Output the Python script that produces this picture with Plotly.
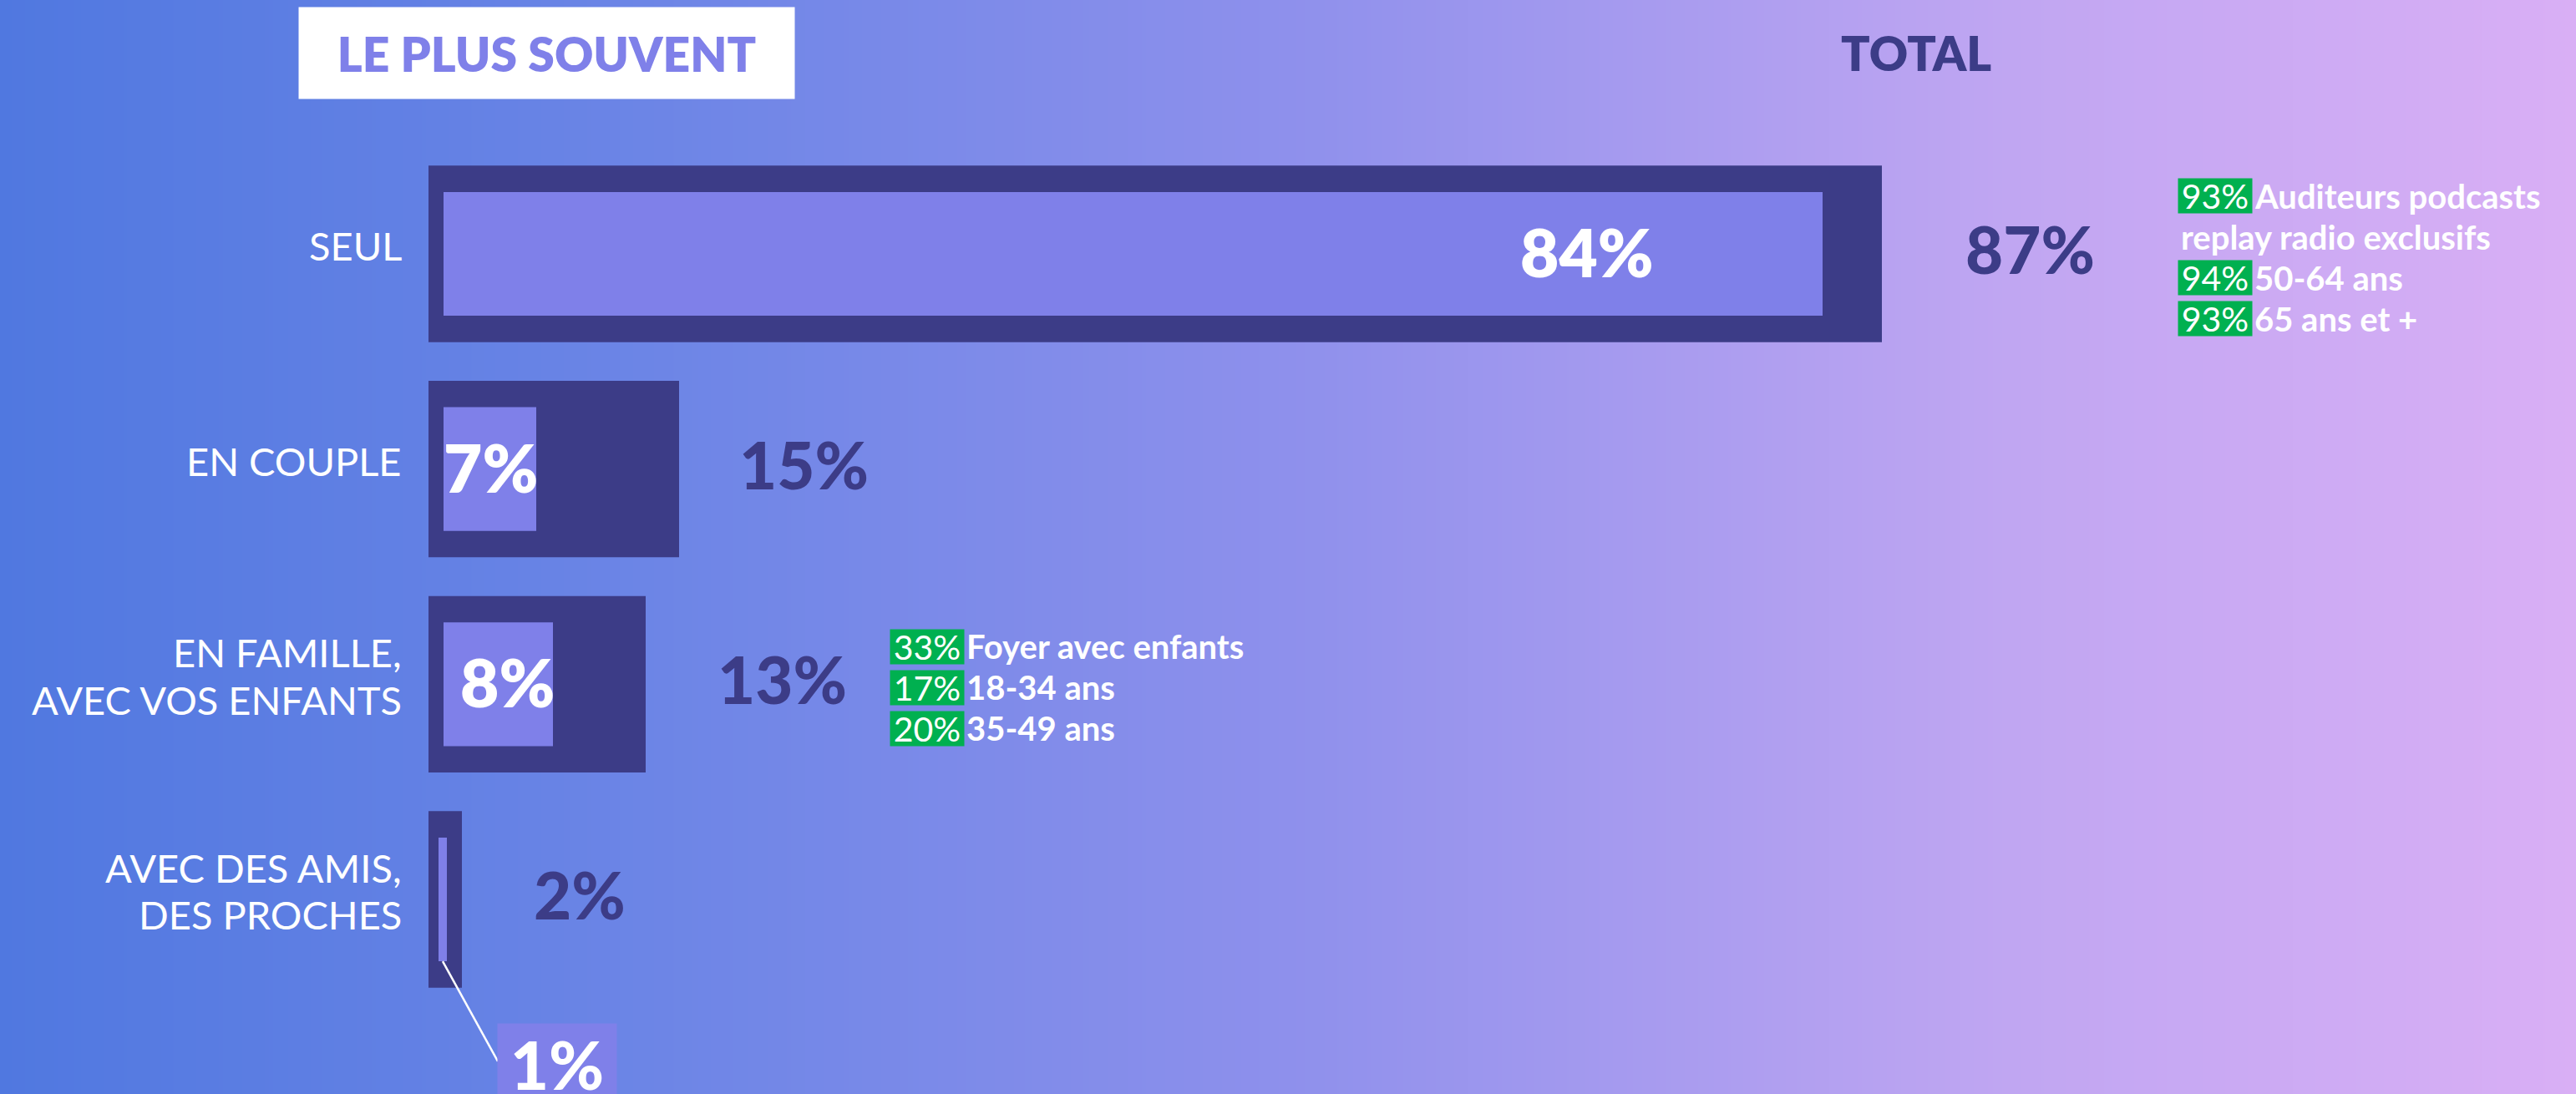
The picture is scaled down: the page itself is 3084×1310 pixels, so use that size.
import plotly.graph_objects as go

# ---------------- data ----------------
categories = ["SEUL", "EN COUPLE", "EN FAMILLE,<br>AVEC VOS ENFANTS", "AVEC DES AMIS,<br>DES PROCHES"]
total_pct = [87, 15, 13, 2]          # TOTAL
most_often_pct = [84, 7, 8, 1]       # LE PLUS SOUVENT
note_pcts = [["93%", "94%", "93%"], [], ["33%", "17%", "20%"], []]
note_labels = [["Auditeurs podcasts<br>replay radio exclusifs", "50-64 ans", "65 ans et +"],
               [], ["Foyer avec enfants", "18-34 ans", "35-49 ans"], []]
header_left = "LE PLUS SOUVENT"
header_right = "TOTAL"

# ---------------- style ----------------
W, H = 3084, 1310
FONT = "Lato"
NAVY = "#3c3c87"
LILAC = "#7f80e9"
GREEN = "#00b050"
WHITE = "#ffffff"
PX_PER_UNIT = 20.0
X0_PX = 513
Y_PX_PER_ROW = 257.67
Y0_PX = 304
X_RANGE = [-X0_PX / PX_PER_UNIT, (W - X0_PX) / PX_PER_UNIT]
Y_RANGE = [(len(categories) - 1) + (H - (Y0_PX + 3 * Y_PX_PER_ROW)) / Y_PX_PER_ROW, -Y0_PX / Y_PX_PER_ROW]
OUTER_W = 0.82
INNER_W = 0.575
INSET_L, INSET_R = 0.9, 0.55
TOTAL_GAP = [4.9, 3.5, 4.2, 4.2]
NOTE_GAP = [17.7, None, 14.6, None]
NOTE_PITCH = 49
BOX_W, BOX_H = 88, 41
LABEL_PITCH = 56.5

ypos = list(range(len(categories)))


def inner_span(v):
    if v > 2:
        return INSET_L, v - INSET_R
    return 0.6 * v, 1.1 * v


spans = [inner_span(v) for v in most_often_pct]

fig = go.Figure()

# background gradient
fig.add_trace(go.Heatmap(
    z=[[0, 1], [0, 1]], x=[0, 1], y=[0, 1], zsmooth="best", showscale=False,
    hoverinfo="skip", xaxis="x", yaxis="y",
    colorscale=[[0, "#5078e0"], [0.25, "#6c85e6"], [0.5, "#8e90ec"], [0.78, "#c0a6f2"], [1, "#d9aff5"]],
))

fig.add_trace(go.Bar(
    y=ypos, x=total_pct, base=0, orientation="h", width=OUTER_W,
    marker=dict(color=NAVY, line=dict(width=0)), xaxis="x2", yaxis="y2", hoverinfo="skip",
))
fig.add_trace(go.Bar(
    y=ypos, x=[b - a for a, b in spans], base=[a for a, b in spans], orientation="h", width=INNER_W,
    marker=dict(color=LILAC, line=dict(width=0)), xaxis="x2", yaxis="y2", hoverinfo="skip",
))

ann = []
# headers
ann.append(dict(xref="paper", yref="paper", x=654.5 / W, y=1 - 63.5 / H, xanchor="center", yanchor="middle",
                text=header_left, showarrow=False, bgcolor=WHITE, width=593, height=109, borderpad=0,
                font=dict(family=FONT, size=57, color=LILAC, weight=800)))
ann.append(dict(xref="paper", yref="paper", x=2294 / W, y=1 - 63.5 / H, xanchor="center", yanchor="middle",
                text=header_right, showarrow=False,
                font=dict(family=FONT, size=57, color=NAVY, weight=800)))

shapes = []
for i, cat in enumerate(categories):
    y = ypos[i]
    # category label (one annotation per line for tighter line spacing)
    parts = cat.split("<br>")
    for k, part in enumerate(parts):
        off = (k - (len(parts) - 1) / 2) * LABEL_PITCH
        ann.append(dict(xref="x2", yref="y2", x=-1.5, y=y, xanchor="right", yanchor="middle", align="right",
                        text=part, showarrow=False, yshift=10 - off,
                        font=dict(family=FONT, size=47, color=WHITE)))
    # total value
    ann.append(dict(xref="x2", yref="y2", x=total_pct[i] + TOTAL_GAP[i], y=y, xanchor="left", yanchor="middle",
                    text=f"{total_pct[i]}%", showarrow=False, yshift=6,
                    font=dict(family=FONT, size=78, color=NAVY, weight=900)))
    a, b = spans[i]
    v = most_often_pct[i]
    if v > 2:
        gap = 10 if v >= 50 else -0.2
        ann.append(dict(xref="x2", yref="y2", x=b - gap, y=y, xanchor="right", yanchor="middle",
                        text=f"{v}%", showarrow=False, yshift=3,
                        font=dict(family=FONT, size=80, color=WHITE, weight=800)))
    else:
        bx = b + 3.0
        by = y + 0.574
        ann.append(dict(xref="x2", yref="y2", x=bx, y=by, xanchor="left", yanchor="top", valign="top",
                        text=f"{v}%", showarrow=False, bgcolor=LILAC, width=142, height=120, borderpad=0,
                        font=dict(family=FONT, size=80, color=WHITE, weight=900)))
        shapes.append(dict(type="line", xref="x2", yref="y2", x0=(a + b) / 2, y0=y + INNER_W / 2,
                           x1=bx + 0.05, y1=by + 46 / Y_PX_PER_ROW, line=dict(color=WHITE, width=2.5)))
    # notes
    if note_pcts[i]:
        lines = []
        for p, lab in zip(note_pcts[i], note_labels[i]):
            lparts = lab.split("<br>")
            lines.append((p, lparts[0]))
            for extra in lparts[1:]:
                lines.append((None, extra))
        n = len(lines)
        block_h = (n - 1) * NOTE_PITCH + BOX_H
        top = -block_h / 2 + 4
        nx = total_pct[i] + NOTE_GAP[i]
        for k, (p, txt) in enumerate(lines):
            cy = top + k * NOTE_PITCH + BOX_H / 2
            if p is not None:
                ann.append(dict(xref="x2", yref="y2", x=nx, y=y, xanchor="left", yanchor="middle",
                                text=p, showarrow=False, bgcolor=GREEN, width=BOX_W, height=BOX_H,
                                borderpad=0, yshift=-cy,
                                font=dict(family=FONT, size=41, color=WHITE)))
                xs = BOX_W + 2
            else:
                xs = 2
            ann.append(dict(xref="x2", yref="y2", x=nx, y=y, xanchor="left", yanchor="middle",
                            text=txt, showarrow=False, xshift=xs, yshift=-cy,
                            font=dict(family=FONT, size=40, color=WHITE, weight=700)))

fig.update_layout(
    width=W, height=H, margin=dict(l=0, r=0, t=0, b=0),
    paper_bgcolor="#8e90ec", plot_bgcolor="rgba(0,0,0,0)",
    barmode="overlay", showlegend=False,
    xaxis=dict(range=[0, 1], visible=False, fixedrange=True),
    yaxis=dict(range=[0, 1], visible=False, fixedrange=True),
    xaxis2=dict(range=X_RANGE, visible=False, overlaying="x", anchor="y2", fixedrange=True),
    yaxis2=dict(range=Y_RANGE, visible=False, overlaying="y", anchor="x2", fixedrange=True),
    annotations=ann, shapes=shapes,
)

fig.write_html("out.html", config={"displayModeBar": False},
               post_script="document.body.style.margin='0';document.body.style.overflow='hidden';")
